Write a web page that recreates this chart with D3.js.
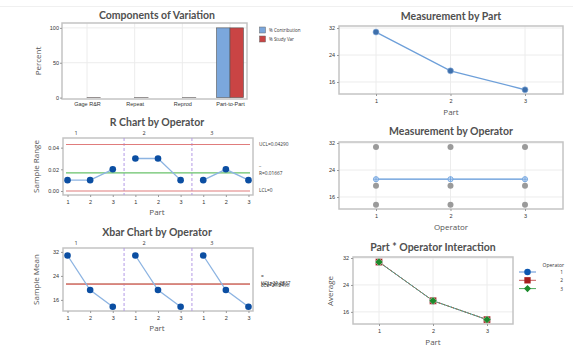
<!DOCTYPE html>
<html>
<head>
<meta charset="utf-8">
<script src="https://cdn.jsdelivr.net/npm/d3@7"></script>
<style>
  body { margin: 0; background: #fff; }
  svg { display: block; font-family: "Open Sans", "Noto Sans", sans-serif; }
</style>
</head>
<body>
<div id="chart"></div>
<script>
const components = ["Gage R&R", "Repeat", "Reprod", "Part-to-Part"];
const pctContribution = [0.0, 0.0, 0.0, 100.0];
const pctStudyVar = [0.15, 0.12, 0.08, 100.0];
const parts = [1, 2, 3];
const operators = [1, 2, 3];
const partMeans = [30.8, 19.3, 13.7];
const operatorMeans = [21.2667, 21.2667, 21.2667];
// per operator, per part
const operatorValues = [[30.8, 19.3, 13.7], [30.8, 19.3, 13.7], [30.8, 19.3, 13.7]];
const sampleRanges = [[0.01, 0.01, 0.02], [0.03, 0.03, 0.01], [0.01, 0.02, 0.01]];
const sampleMeans = [[30.8, 19.3, 13.7], [30.8, 19.3, 13.7], [30.8, 19.3, 13.7]];
const interactionMeans = [[30.8, 19.3, 13.7], [30.8, 19.3, 13.7], [30.8, 19.3, 13.7]];
const rLimits = [0.04290, 0.01667, 0];        // UCL, R-bar, LCL
const xbarLimits = [21.2837, 21.2667, 21.2496]; // UCL, X-dbar, LCL

const W = 573, H = 350;
const titleColor = "#505050", textColor = "#333", frameColor = "#c4c4c4", gridColor = "#ececec";
const blueDark = "#0b4ea2", blueLine = "#8db4e2", redLine = "#e07c7c", greenLine = "#68c26a";

const svg = d3.select("#chart").append("svg")
    .attr("width", W).attr("height", H);

svg.append("line")
    .attr("x1", 0).attr("x2", W).attr("y1", 6.5).attr("y2", 6.5)
    .attr("stroke", "#f0f0f0");

function title(text, x, y) {
    svg.append("text")
        .attr("x", x).attr("y", y)
        .attr("text-anchor", "middle")
        .attr("font-family", "Lato, 'Open Sans', sans-serif")
        .attr("font-size", "10.5px").attr("font-weight", "bold")
        .attr("fill", titleColor)
        .text(text);
}

function label(text, x, y, rotate) {
    svg.append("text")
        .attr("transform", `translate(${x},${y})` + (rotate ? " rotate(-90)" : ""))
        .attr("text-anchor", "middle")
        .attr("font-size", "8px")
        .attr("fill", "#555")
        .text(text);
}

function frame(x0, y0, x1, y1) {
    svg.append("rect")
        .attr("x", x0).attr("y", y0)
        .attr("width", x1 - x0).attr("height", y1 - y0)
        .attr("fill", "none")
        .attr("stroke", frameColor).attr("stroke-width", 1.5);
}

function styleAxis(g) {
    g.select(".domain").remove();
    g.selectAll(".tick line").attr("stroke", "#999");
    g.selectAll(".tick text").attr("font-size", "5.5px").attr("fill", textColor);
}

function grid(x, y, xVals, yVals, x0, y0, x1, y1) {
    const g = svg.append("g").attr("stroke", gridColor).attr("stroke-width", 1);
    xVals.forEach(v => g.append("line").attr("x1", x(v)).attr("x2", x(v)).attr("y1", y0).attr("y2", y1));
    yVals.forEach(v => g.append("line").attr("x1", x0).attr("x2", x1).attr("y1", y(v)).attr("y2", y(v)));
}

// ---------- Components of Variation ----------
{
    const x0 = 62, x1 = 247, y0 = 23, y1 = 99;
    const x = d3.scalePoint().domain(components).range([87, 230]);
    const y = d3.scaleLinear().domain([-2, 107]).range([y1, y0]);
    title("Components of Variation", 157, 19);
    grid(x, y, components, [50, 100], x0, y0, x1, y1);
    const bw = 13.5;
    const series = [
        {vals: pctContribution, color: "#7ba7dc", off: -bw},
        {vals: pctStudyVar, color: "#c94444", off: 0}
    ];
    series.forEach(s => {
        svg.append("g").selectAll("rect").data(components).enter().append("rect")
            .attr("x", d => x(d) + s.off)
            .attr("y", (d, i) => y(s.vals[i]))
            .attr("width", bw)
            .attr("height", (d, i) => y(0) - y(s.vals[i]))
            .attr("fill", s.color)
            .attr("stroke", "#555").attr("stroke-width", 0.6);
    });
    frame(x0, y0, x1, y1);
    svg.append("g").attr("transform", `translate(${x0},0)`)
        .call(d3.axisLeft(y).tickValues([0, 50, 100]).tickSize(2).tickPadding(1))
        .call(styleAxis);
    svg.append("g").attr("transform", `translate(0,${y1})`)
        .call(d3.axisBottom(x).tickSize(0).tickPadding(3))
        .call(styleAxis);
    label("Percent", 41, 61, true);
    const legend = [["% Contribution", "#7ba7dc"], ["% Study Var", "#c94444"]];
    legend.forEach((d, i) => {
        svg.append("rect").attr("x", 259.5).attr("y", 27 + i * 9).attr("width", 6).attr("height", 6)
            .attr("fill", d[1]).attr("stroke", "#666").attr("stroke-width", 0.5);
        svg.append("text").attr("x", 269).attr("y", 32 + i * 9)
            .attr("font-size", "4.5px").attr("fill", textColor).text(d[0]);
    });
}

// ---------- Measurement by Part ----------
{
    const x0 = 339, x1 = 563, y0 = 26, y1 = 94;
    const x = d3.scalePoint().domain(parts).range([376, 525]);
    const y = d3.scaleLinear().domain([12.44, 32.6]).range([y1, y0]);
    title("Measurement by Part", 451, 20);
    grid(x, y, parts, [16, 24, 32], x0, y0, x1, y1);
    frame(x0, y0, x1, y1);
    svg.append("path").datum(partMeans)
        .attr("d", d3.line().x((d, i) => x(parts[i])).y(d => y(d)))
        .attr("fill", "none").attr("stroke", "#6d9fd9").attr("stroke-width", 1.3);
    svg.append("g").selectAll("circle").data(partMeans).enter().append("circle")
        .attr("cx", (d, i) => x(parts[i])).attr("cy", d => y(d)).attr("r", 3)
        .attr("fill", "#3e6fab").attr("stroke", "#8aaedb").attr("stroke-width", 0.6);
    svg.append("g").attr("transform", `translate(${x0},0)`)
        .call(d3.axisLeft(y).tickValues([16, 24, 32]).tickSize(2).tickPadding(2))
        .call(styleAxis);
    svg.append("g").attr("transform", `translate(0,${y1})`)
        .call(d3.axisBottom(x).tickSize(2).tickPadding(3))
        .call(styleAxis);
    label("Part", 451, 115, false);
}

// ---------- control chart by operator (shared by R and Xbar) ----------
function controlChart(opts) {
    const {x0, x1, y0, y1, domain, ticks, fmt, values, limits, limitText, titleText, ylabel, titleY} = opts;
    const idx = d3.range(1, 10);
    const x = d3.scaleLinear().domain([0.8, 9.2]).range([x0, x1]);
    const y = d3.scaleLinear().domain(domain).range([y1, y0]);
    title(titleText, 157, titleY);
    frame(x0, y0, x1, y1);
    // dashed separators between operators
    [3.5, 6.5].forEach(v => svg.append("line")
        .attr("x1", x(v)).attr("x2", x(v)).attr("y1", y0).attr("y2", y1)
        .attr("stroke", "#b49ae6").attr("stroke-width", 1).attr("stroke-dasharray", "3,2"));
    // center line then limits
    svg.append("line").attr("x1", x0 + 3).attr("x2", x1 - 3)
        .attr("y1", y(limits[1])).attr("y2", y(limits[1]))
        .attr("stroke", greenLine).attr("stroke-width", 1.2);
    [limits[0], limits[2]].forEach(v => svg.append("line")
        .attr("x1", x0 + 3).attr("x2", x1 - 3).attr("y1", y(v)).attr("y2", y(v))
        .attr("stroke", redLine).attr("stroke-width", 1.2));
    operators.forEach((op, k) => {
        const pts = values[k].map((v, j) => [k * 3 + j + 1, v]);
        svg.append("path").datum(pts)
            .attr("d", d3.line().x(d => x(d[0])).y(d => y(d[1])))
            .attr("fill", "none").attr("stroke", blueLine).attr("stroke-width", 1.3);
        svg.append("g").selectAll("circle").data(pts).enter().append("circle")
            .attr("cx", d => x(d[0])).attr("cy", d => y(d[1])).attr("r", 3.3)
            .attr("fill", blueDark);
        svg.append("text").attr("x", x(k * 3 + 1) + 7).attr("y", y0 - 3)
            .attr("font-size", "5.5px").attr("fill", textColor).text(op);
    });
    svg.append("g").attr("transform", `translate(${x0},0)`)
        .call(d3.axisLeft(y).tickValues(ticks).tickFormat(fmt).tickSize(2).tickPadding(2))
        .call(styleAxis);
    svg.append("g").attr("transform", `translate(0,${y1})`)
        .call(d3.axisBottom(x).tickValues(idx).tickFormat(d => parts[(d - 1) % 3]).tickSize(2).tickPadding(3))
        .call(styleAxis);
    label("Part", 157, y1 + 20, false);
    label(ylabel, 39, (y0 + y1) / 2, true);
    limitText(x, y);
}

// ---------- R Chart by Operator ----------
controlChart({
    x0: 63, x1: 253, y0: 138, y1: 195,
    domain: [-0.0037, 0.0489], ticks: [0, 0.02, 0.04], fmt: d3.format(".2f"),
    values: sampleRanges, limits: rLimits,
    titleText: "R Chart by Operator", ylabel: "Sample Range", titleY: 126,
    limitText: (x, y) => {
        const t = (s, yy) => svg.append("text").attr("x", 259).attr("y", yy)
            .attr("font-size", "4.8px").attr("fill", textColor).text(s);
        t("UCL=" + rLimits[0].toFixed(5), y(rLimits[0]) + 1.5);
        t("_", y(rLimits[1]) - 7);
        t("R=" + rLimits[1].toFixed(5), y(rLimits[1]) + 2);
        t("LCL=" + rLimits[2], y(rLimits[2]) + 1.5);
    }
});

// ---------- Xbar Chart by Operator ----------
// the three limit labels sit on top of each other, as in the source report
controlChart({
    x0: 63, x1: 253, y0: 248, y1: 311,
    domain: [12.3, 33.3], ticks: [16, 24, 32], fmt: d3.format("d"),
    values: sampleMeans, limits: xbarLimits,
    titleText: "Xbar Chart by Operator", ylabel: "Sample Mean", titleY: 236,
    limitText: (x, y) => {
        const t = (s, yy) => svg.append("text").attr("x", 261).attr("y", yy)
            .attr("font-size", "4.8px").attr("fill", textColor).text(s);
        t("=", y(xbarLimits[1]) - 6);
        t("UCL=" + xbarLimits[0].toFixed(4), y(xbarLimits[0]) + 0.8);
        t("X=" + xbarLimits[1].toFixed(4), y(xbarLimits[1]) + 1.8);
        t("LCL=" + xbarLimits[2].toFixed(4), y(xbarLimits[2]) + 2.8);
    }
});

// ---------- Measurement by Operator ----------
{
    const x0 = 339, x1 = 563, y0 = 142, y1 = 209;
    const x = d3.scalePoint().domain(operators).range([376, 525]);
    const y = d3.scaleLinear().domain([12.44, 32.3]).range([y1, y0]);
    title("Measurement by Operator", 451, 135);
    grid(x, y, operators, [16, 24, 32], x0, y0, x1, y1);
    frame(x0, y0, x1, y1);
    operators.forEach((op, k) => {
        svg.append("g").selectAll("circle").data(operatorValues[k]).enter().append("circle")
            .attr("cx", x(op)).attr("cy", d => y(d)).attr("r", 3)
            .attr("fill", "#9a9a9a");
    });
    svg.append("path").datum(operatorMeans)
        .attr("d", d3.line().x((d, i) => x(operators[i])).y(d => y(d)))
        .attr("fill", "none").attr("stroke", "#5b95d8").attr("stroke-width", 1.3);
    const mk = svg.append("g").selectAll("g").data(operatorMeans).enter().append("g")
        .attr("transform", (d, i) => `translate(${x(operators[i])},${y(d)})`)
        .attr("stroke", "#6aa0dd").attr("stroke-width", 0.8).attr("fill", "#cfe0f5");
    mk.append("circle").attr("r", 2.6);
    mk.append("path").attr("d", "M-2.6,0H2.6M0,-2.6V2.6");
    svg.append("g").attr("transform", `translate(${x0},0)`)
        .call(d3.axisLeft(y).tickValues([16, 24, 32]).tickSize(2).tickPadding(2))
        .call(styleAxis);
    svg.append("g").attr("transform", `translate(0,${y1})`)
        .call(d3.axisBottom(x).tickSize(2).tickPadding(3))
        .call(styleAxis);
    label("Operator", 451, 230, false);
}

// ---------- Part * Operator Interaction ----------
{
    const x0 = 353, x1 = 513, y0 = 257, y1 = 324;
    const x = d3.scalePoint().domain(parts).range([379, 487]);
    const y = d3.scaleLinear().domain([12.4, 32.3]).range([y1, y0]);
    title("Part * Operator Interaction", 433, 251);
    grid(x, y, parts, [16, 24, 32], x0, y0, x1, y1);
    frame(x0, y0, x1, y1);
    const styles = [
        {color: "#0b56b0", line: "#5b8fd6", sym: d3.symbolCircle, size: 42},
        {color: "#a51d1d", line: "#c85a5a", sym: d3.symbolSquare, size: 50},
        {color: "#1c8a2c", line: "#4aa85a", sym: d3.symbolDiamond2, size: 40}
    ];
    operators.forEach((op, k) => {
        const s = styles[k];
        svg.append("path").datum(interactionMeans[k])
            .attr("d", d3.line().x((d, i) => x(parts[i])).y(d => y(d)))
            .attr("fill", "none").attr("stroke", s.line).attr("stroke-width", 1)
            .attr("stroke-dasharray", k === 0 ? null : (k === 1 ? "3,1.5" : "1.5,1"));
        svg.append("g").selectAll("path").data(interactionMeans[k]).enter().append("path")
            .attr("transform", (d, i) => `translate(${x(parts[i])},${y(d)})`)
            .attr("d", d3.symbol().type(s.sym).size(s.size))
            .attr("fill", s.color).attr("stroke", "#fff").attr("stroke-width", 0.4);
        // legend entry
        const ly = 272 + k * 8.3;
        svg.append("line").attr("x1", 519).attr("x2", 536).attr("y1", ly).attr("y2", ly)
            .attr("stroke", s.line).attr("stroke-width", 1);
        svg.append("path").attr("transform", `translate(527.5,${ly})`)
            .attr("d", d3.symbol().type(s.sym).size(s.size * 0.8))
            .attr("fill", s.color);
        svg.append("text").attr("x", 563).attr("y", ly + 2).attr("text-anchor", "end")
            .attr("font-size", "4.8px").attr("fill", textColor).text(op);
    });
    svg.append("text").attr("x", 564).attr("y", 266.5).attr("text-anchor", "end")
        .attr("font-size", "5px").attr("fill", textColor).text("Operator");
    svg.append("g").attr("transform", `translate(${x0},0)`)
        .call(d3.axisLeft(y).tickValues([16, 24, 32]).tickSize(2).tickPadding(2))
        .call(styleAxis);
    svg.append("g").attr("transform", `translate(0,${y1})`)
        .call(d3.axisBottom(x).tickSize(2).tickPadding(3))
        .call(styleAxis);
    label("Part", 433, 345, false);
    label("Average", 333, 291, true);
}
</script>
</body>
</html>
